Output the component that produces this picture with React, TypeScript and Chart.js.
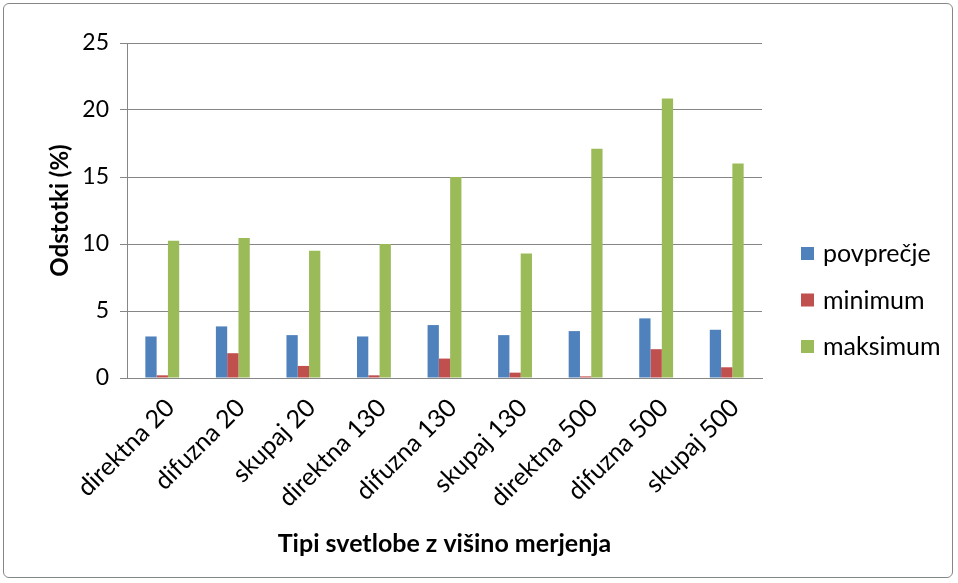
import React, { useEffect, useRef } from "react";
import { Chart, registerables } from "chart.js";

Chart.register(...registerables);

const categories = [
  "direktna 20",
  "difuzna 20",
  "skupaj 20",
  "direktna 130",
  "difuzna 130",
  "skupaj 130",
  "direktna 500",
  "difuzna 500",
  "skupaj 500",
];
const povprecje = [3.1, 3.85, 3.2, 3.1, 3.95, 3.2, 3.5, 4.45, 3.6];
const minimum = [0.2, 1.85, 0.9, 0.2, 1.45, 0.4, 0.12, 2.15, 0.8];
const maksimum = [10.25, 10.45, 9.5, 10.0, 15.0, 9.3, 17.1, 20.85, 16.0];
const yTicks = [0, 5, 10, 15, 20, 25];

const FONT = "Lato, 'Open Sans', sans-serif";

const legendPlugin = {
  id: "customLegend",
  afterDraw(chart: any) {
    const c = chart.ctx;
    c.save();
    c.font = `25px ${FONT}`;
    c.textBaseline = "middle";
    c.textAlign = "left";
    chart.data.datasets.forEach((ds: any, i: number) => {
      const y = 253 + i * 46.5;
      c.fillStyle = ds.backgroundColor;
      c.fillRect(801, y - 6, 13, 13);
      c.fillStyle = "#000";
      c.fillText(ds.label, 823, y + 1);
    });
    c.restore();
  },
};

export default function App() {
  const ref = useRef<HTMLCanvasElement | null>(null);
  useEffect(() => {
    document.body.style.margin = "0";
    const ctx = ref.current!;
    const chart = new Chart(ctx, {
      type: "bar",
      data: {
        labels: categories,
        datasets: [
          { label: "povprečje", data: povprecje, backgroundColor: "#4F81BD" },
          { label: "minimum", data: minimum, backgroundColor: "#C0504D" },
          { label: "maksimum", data: maksimum, backgroundColor: "#9BBB59" },
        ],
      },
      plugins: [legendPlugin],
      options: {
        animation: false,
        responsive: false,
        devicePixelRatio: 1,
        datasets: {
          bar: { barPercentage: 1, categoryPercentage: 0.48 },
        },
        layout: { padding: { top: 43, left: 46, right: 196, bottom: 24 } },
        plugins: {
          legend: { display: false },
          tooltip: { enabled: false },
        },
        scales: {
          x: {
            afterFit: (axis: any) => {
              axis.height = 583 - 378 - 24;
            },
            grid: { display: false, drawTicks: false },
            border: { display: true, color: "#868686", width: 1 },
            ticks: {
              minRotation: 45,
              maxRotation: 45,
              color: "#000",
              padding: 15,
              labelOffset: 8,
              font: { family: FONT, size: 25 },
            },
            title: {
              display: true,
              text: "Tipi svetlobe z višino merjenja",
              color: "#000",
              font: { family: FONT, size: 25, weight: "bold" },
              padding: { top: 0, bottom: 0 },
            },
          },
          y: {
            min: 0,
            max: 25,
            afterFit: (axis: any) => {
              axis.width = 127 - 46;
            },
            afterBuildTicks: (axis: any) => {
              axis.ticks = yTicks.map((v) => ({ value: v }));
            },
            grid: { color: "#868686", lineWidth: 1, tickLength: 7 },
            border: { display: true, color: "#868686", width: 1 },
            ticks: {
              color: "#000",
              padding: 11,
              font: { family: FONT, size: 23 },
            },
            title: {
              display: true,
              text: "Odstotki (%)",
              color: "#000",
              font: { family: FONT, size: 24, weight: "bold" },
              padding: { top: 0, bottom: 0 },
            },
          },
        },
      },
    });
    return () => chart.destroy();
  }, []);
  return (
    <div
      style={{
        position: "relative",
        width: 958,
        height: 583,
        background: "#fff",
      }}
    >
      <div
        style={{
          position: "absolute",
          left: 3,
          top: 3,
          width: 950,
          height: 575,
          border: "1px solid #868686",
          borderRadius: 6,
          boxSizing: "border-box",
          pointerEvents: "none",
        }}
      />
      <canvas ref={ref} width={958} height={583} style={{ display: "block" }} />
    </div>
  );
}
